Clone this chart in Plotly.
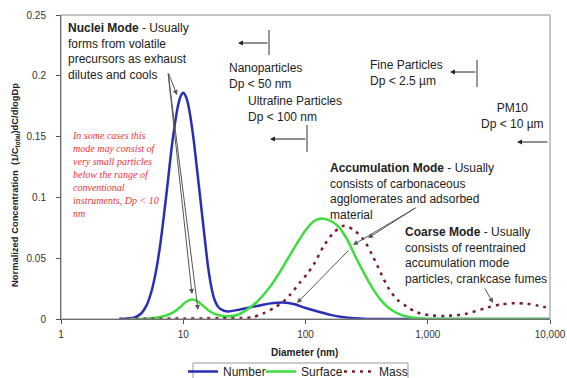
import plotly.graph_objects as go

# ---------------- data ----------------
number_d = [3, 4, 4.5, 5, 5.5, 6, 6.5, 7, 7.5, 8, 8.5, 9, 9.5, 10, 10.5, 11, 12, 13, 14, 15, 16, 17, 18, 19, 20,
            23, 28, 35, 45, 55, 65, 80, 100, 130, 160, 200, 250, 320, 400, 1000, 10000]
number_v = [0, 0.0013, 0.0043, 0.011, 0.0228, 0.040, 0.062, 0.088, 0.114, 0.139, 0.159, 0.174, 0.183, 0.186,
            0.183, 0.176, 0.152, 0.122, 0.093, 0.066, 0.042, 0.026, 0.016, 0.011, 0.0085,
            0.0062, 0.0075, 0.0095, 0.0118, 0.0131, 0.0135, 0.0124, 0.009, 0.0058, 0.0034, 0.0016, 0.0006, 0.0001, 0, 0, 0]

surface_d = [3.5, 5, 6, 7, 8.3, 9.5, 10.5, 11.8, 13, 14.5, 16, 18, 20, 23.5, 28, 33, 40, 50, 62, 75, 85, 100,
             120, 141, 165, 190, 220, 260, 300, 350, 412, 480, 565, 700, 875, 1000, 1200, 10000]
surface_v = [0, 0.0003, 0.001, 0.0025, 0.0055, 0.010, 0.014, 0.016, 0.0148, 0.011, 0.0072, 0.0042, 0.0029,
             0.0022, 0.0035, 0.0075, 0.014, 0.025, 0.039, 0.053, 0.062, 0.073, 0.0812, 0.0825, 0.080, 0.075,
             0.065, 0.050, 0.038, 0.026, 0.0157, 0.009, 0.0047, 0.0017, 0.0005, 0.0001, 0, 0]

mass_d = [3, 5, 10, 15, 20, 30, 37, 45, 55, 66, 75, 90, 103, 117, 141, 170, 206, 250, 300, 350, 412, 480, 565,
          680, 775, 875, 1060, 1400, 2000, 3090, 4000, 5200, 6500, 8000, 10000]
mass_v = [0, 0.0002, 0.0004, 0.0005, 0.0006, 0.0008, 0.0015, 0.0045, 0.009, 0.0143, 0.020, 0.030, 0.037, 0.045,
          0.060, 0.071, 0.0767, 0.073, 0.065, 0.053, 0.038, 0.025, 0.0157, 0.010, 0.0065, 0.0045, 0.003,
          0.0025, 0.004, 0.0095, 0.012, 0.013, 0.0125, 0.011, 0.0088]

x_tickvals = [1, 10, 100, 1000, 10000]
x_ticktext = ["1", "10", "100", "1,000", "10,000"]
y_tickvals = [0, 0.05, 0.1, 0.15, 0.2, 0.25]
y_ticktext = ["0", "0.05", "0.1", "0.15", "0.2", "0.25"]

# ---------------- layout geometry ----------------
W, H = 567, 378
L, R, T, B = 61, 17, 15, 59
PW, PH = W - L - R, H - T - B


def px(x):
    return (x - L) / PW


def py(y):
    return (H - B - y) / PH


SANS = "Liberation Sans, Arial, sans-serif"
SERIF = "Liberation Serif, Times New Roman, serif"

fig = go.Figure()
fig.add_trace(go.Scatter(x=number_d, y=number_v, name="Number", mode="lines",
                         line=dict(color="#2B2DB5", width=2.5, shape="spline", smoothing=0.8)))
fig.add_trace(go.Scatter(x=surface_d, y=surface_v, name="Surface", mode="lines",
                         line=dict(color="#3EDC3E", width=2.5, shape="spline", smoothing=0.8)))
fig.add_trace(go.Scatter(x=mass_d, y=mass_v, name="Mass", mode="lines",
                         line=dict(color="#7A1F2E", width=2.5, shape="spline", smoothing=0.8, dash="3px,5px")))

annotations = []


def text(x, y, t, size=12, color="#222", family=SANS, xanchor="left", align="left"):
    annotations.append(dict(x=px(x), y=py(y), xref="paper", yref="paper", text=t, showarrow=False,
                            xanchor=xanchor, yanchor="top", align=align,
                            font=dict(size=size, color=color, family=family)))


def arrow(tx, ty, hx, hy, color="#555", head=2):
    annotations.append(dict(x=px(hx), y=py(hy), xref="paper", yref="paper", text="", showarrow=True,
                            ax=tx - hx, ay=ty - hy, axref="pixel", ayref="pixel",
                            arrowhead=head, arrowsize=1, arrowwidth=1, arrowcolor=color))


text(66, 19, "<b>Nuclei Mode</b> - Usually<br>forms from volatile<br>precursors as exhaust<br>dilutes and cools")
text(70, 128, "<i>In some cases this<br>mode may consist of<br>very small particles<br>below the range of<br>"
              "conventional<br>instruments, Dp &lt; 10<br>nm</i>", size=10, color="#E8323C", family=SERIF)
text(227, 59, "Nanoparticles<br>Dp &lt; 50 nm")
text(246, 92, "Ultrafine Particles<br>Dp &lt; 100 nm")
text(368, 56, "Fine Particles<br>Dp &lt; 2.5 µm")
text(512, 99, "PM10<br>Dp &lt; 10 µm", xanchor="center", align="center")
text(328, 159, "<b>Accumulation Mode</b> - Usually<br>consists of carbonaceous<br>agglomerates and adsorbed<br>material")
text(403, 223, "<b>Coarse Mode</b> - Usually<br>consists of reentrained<br>accumulation mode<br>particles, crankcase fumes")

# axis titles
annotations.append(dict(x=px(304), y=py(352), xref="paper", yref="paper", showarrow=False,
                        text="<b>Diameter (nm)</b>", font=dict(size=10, color="#222", family=SANS),
                        xanchor="center", yanchor="middle"))
annotations.append(dict(x=px(15), y=py(185), xref="paper", yref="paper", showarrow=False, textangle=-90,
                        text="<b>Normalized Concentration  (1/C<sub>total</sub>)dC/dlogDp</b>",
                        font=dict(size=9.4, color="#222", family=SANS), xanchor="center", yanchor="middle"))

# pointer arrows
arrow(168, 72, 177, 95)
arrow(168, 72, 192, 294)
arrow(168, 72, 198, 310)
arrow(417, 207, 368, 238)
arrow(417, 207, 353, 245)
arrow(350, 249, 297, 303)
arrow(484, 287, 493, 303)

# range markers
arrow(269, 43, 238, 43, color="#222")
arrow(307, 139, 270, 139, color="#222")
arrow(477, 72, 450, 72, color="#222")
arrow(549, 142, 517, 142, color="#222")

shapes = [
    dict(type="rect", xref="paper", yref="paper", x0=0, x1=1, y0=0, y1=1, line=dict(color="#8a8a8a", width=1)),
    dict(type="line", xref="paper", yref="paper", x0=px(269), x1=px(269), y0=py(30), y1=py(55),
         line=dict(color="#333", width=1)),
    dict(type="line", xref="paper", yref="paper", x0=px(307), x1=px(307), y0=py(125), y1=py(152),
         line=dict(color="#333", width=1)),
    dict(type="line", xref="paper", yref="paper", x0=px(477), x1=px(477), y0=py(60), y1=py(87),
         line=dict(color="#333", width=1)),
    # legend frame
    dict(type="rect", xref="paper", yref="paper", x0=px(193), x1=px(408), y0=py(363), y1=py(386),
         line=dict(color="#999", width=1)),
]

fig.update_layout(
    width=W, height=H, autosize=False,
    margin=dict(l=L, r=R, t=T, b=B, pad=0, autoexpand=False),
    paper_bgcolor="white", plot_bgcolor="white",
    font=dict(family=SANS, color="#222"),
    showlegend=True,
    legend=dict(orientation="h", x=px(300), xanchor="center", y=py(357), yanchor="top",
                borderwidth=0, font=dict(size=12, family=SANS, color="#222"),
                itemwidth=30, entrywidth=33, entrywidthmode="pixels", tracegroupgap=0,
                bgcolor="rgba(0,0,0,0)"),
    xaxis=dict(type="log", range=[0, 4], tickvals=x_tickvals, ticktext=x_ticktext, showgrid=False,
               zeroline=False, showline=True, linecolor="#555", linewidth=1, ticks="outside", ticklen=4,
               tickcolor="#555", tickfont=dict(size=10, color="#333"), ticklabelstandoff=2),
    yaxis=dict(range=[0, 0.25], tickvals=y_tickvals, ticktext=y_ticktext, showgrid=False, zeroline=False,
               showline=True, linecolor="#555", linewidth=1, ticks="outside", ticklen=4, tickcolor="#555",
               tickfont=dict(size=10, color="#333"), ticklabelstandoff=8),
    annotations=annotations,
    shapes=shapes,
)

fig.write_html("out.html")
